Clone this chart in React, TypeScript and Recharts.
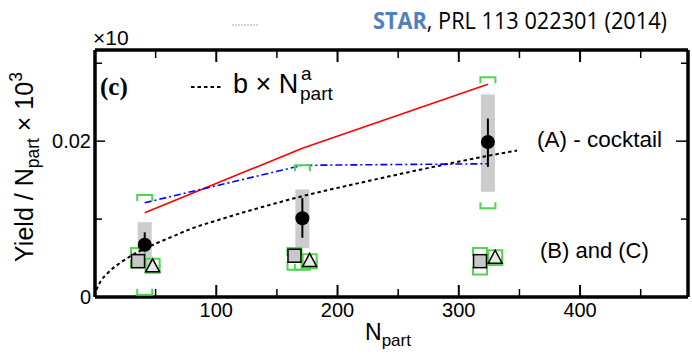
import React from 'react'
import { ComposedChart, Line, Scatter, XAxis, YAxis, ErrorBar } from 'recharts'

const SANS = "'Liberation Sans', Arial, Helvetica, sans-serif"
const SERIF = "'Liberation Serif', 'Times New Roman', serif"
const GREEN = '#4fd64f'
const GREY = '#cccccc'

// Npart axis / yield axis
const xTicks = [50, 100, 150, 200, 250, 300, 350, 400, 450]
const yTicks = [0, 0.01, 0.02, 0.03]
const X_MAX = 489
const Y_MAX = 0.0317

// (A) measured points: black circles
const npartA = [41, 171, 324]
const yieldA = [0.0067, 0.0101, 0.0199]
const statLo = [0.0058, 0.0076, 0.0167]
const statHi = [0.0083, 0.0127, 0.0229]
const sysLo = [0.004, 0.0063, 0.0135]
const sysHi = [0.0096, 0.0138, 0.026]
const bracketHiA = [0.0131, 0.0169, 0.0282]
const bracketLoA = [0.0003, 0.0035, 0.0114]

// cocktail curves
const cocktailRed = [0.0108, 0.0191, 0.0273]
const cocktailBlue = [0.0121, 0.0169, 0.0171]

// (B) squares and (C) triangles
const npartB = [35.5, 164.5, 317.5]
const yieldB = [0.0046, 0.0053, 0.0046]
const bracketHiB = [0.0063, 0.0063, 0.0063]
const bracketLoB = [0.0038, 0.0035, 0.0029]
const npartC = [47.5, 177, 330]
const yieldC = [0.004, 0.0047, 0.0051]
const bracketHiC = [0.0049, 0.0055, 0.006]
const bracketLoC = [0.0031, 0.0037, 0.0041]

// b x Npart^a fit
const fitN = [1, 5, 10, 20, 30, 45, 60, 80, 100, 130, 170, 220, 270, 320, 348]
const fitY = [0.0009, 0.0021, 0.003, 0.0043, 0.0053, 0.0065, 0.0075, 0.0088, 0.0098, 0.0112, 0.0129, 0.0147, 0.0164, 0.018, 0.0188]

const pointsA = npartA.map((x, i) => ({
  x,
  y: yieldA[i],
  stat: [yieldA[i] - statLo[i], statHi[i] - yieldA[i]],
  sys: [yieldA[i] - sysLo[i], sysHi[i] - yieldA[i]],
}))
const redData = npartA.map((x, i) => ({ x, y: cocktailRed[i] }))
const blueData = npartA.map((x, i) => ({ x, y: cocktailBlue[i] }))
const fitData = fitN.map((x, i) => ({ x, y: fitY[i] }))
const squares = npartB.map((x, i) => ({ x, y: yieldB[i] }))
const triangles = npartC.map((x, i) => ({ x, y: yieldC[i] }))
const topBrackets = [
  ...npartA.map((x, i) => ({ x, y: bracketHiA[i], w: 15, h: 6 })),
  ...npartB.map((x, i) => ({ x, y: bracketHiB[i], w: 14, h: 8 })),
  ...npartC.map((x, i) => ({ x, y: bracketHiC[i], w: 14, h: 8 })),
]
const bottomBrackets = [
  ...npartA.map((x, i) => ({ x, y: bracketLoA[i], w: 15, h: 6 })),
  ...npartB.map((x, i) => ({ x, y: bracketLoB[i], w: 14, h: 8 })),
  ...npartC.map((x, i) => ({ x, y: bracketLoC[i], w: 14, h: 8 })),
]

const isMajorX = (v: number) => v % 100 === 0
const isMajorY = (v: number) => Math.abs(v) < 1e-9 || Math.abs(v - 0.02) < 1e-9
const AXIS = { stroke: '#000', strokeWidth: 3.5 }

const BottomTick = ({ x, y, payload }: any) => {
  const major = isMajorX(payload.value)
  return (
    <g>
      <line x1={x} x2={x} y1={y} y2={y - (major ? 12 : 8)} stroke="#000" strokeWidth={major ? 2 : 1.5} />
      {major && (
        <text x={x} y={y + 20} textAnchor="middle" fontSize={20} fontFamily={SANS} fill="#000">
          {payload.value}
        </text>
      )}
    </g>
  )
}

const TopTick = ({ x, y, payload }: any) => {
  const major = isMajorX(payload.value)
  return <line x1={x} x2={x} y1={y} y2={y + (major ? 12 : 8)} stroke="#000" strokeWidth={major ? 2 : 1.5} />
}

const LeftTick = ({ x, y, payload }: any) => {
  const major = isMajorY(payload.value)
  return (
    <g>
      <line x1={x} x2={x + (major ? 10 : 7)} y1={y} y2={y} stroke="#000" strokeWidth={1.5} />
      {major && (
        <text x={x - 4} y={y + 7} textAnchor="end" fontSize={20} fontFamily={SANS} fill="#000">
          {payload.value === 0 ? '0' : '0.02'}
        </text>
      )}
    </g>
  )
}

const RightTick = ({ x, y, payload }: any) => {
  const major = isMajorY(payload.value)
  return <line x1={x} x2={x - (major ? 12 : 7)} y1={y} y2={y} stroke="#000" strokeWidth={1.5} />
}

const Circle = ({ cx, cy }: any) => <circle cx={cx} cy={cy} r={7} fill="#000" />
const Empty = () => <g />
const Square = ({ cx, cy }: any) => (
  <rect x={cx - 6.5} y={cy - 6.5} width={13} height={13} fill="#c8c8c8" stroke="#000" strokeWidth={1.5} />
)
const Triangle = ({ cx, cy }: any) => (
  <path d={`M${cx - 7},${cy + 6} L${cx + 7},${cy + 6} L${cx},${cy - 7} Z`} fill="#e8e8e8" stroke="#000" strokeWidth={1.5} />
)
const TopBracket = ({ cx, cy, payload }: any) => {
  const w = payload.w / 2
  return <path d={`M${cx - w},${cy + payload.h} V${cy} H${cx + w} V${cy + payload.h}`} fill="none" stroke={GREEN} strokeWidth={2} />
}
const BottomBracket = ({ cx, cy, payload }: any) => {
  const w = payload.w / 2
  return <path d={`M${cx - w},${cy - payload.h} V${cy} H${cx + w} V${cy - payload.h}`} fill="none" stroke={GREEN} strokeWidth={2} />
}

export default function App() {
  return (
    <div style={{ position: 'absolute', left: 0, top: 0, width: 692, height: 354, background: '#fff' }}>
      <ComposedChart width={692} height={354} margin={{ top: 40, right: 2, bottom: 27, left: 35 }}>
        <XAxis
          dataKey="x" type="number" domain={[0, X_MAX]} ticks={xTicks} allowDataOverflow
          height={30} tickSize={0} tickMargin={0} tick={<BottomTick />}
          axisLine={AXIS} tickLine={false}
        />
        <XAxis
          xAxisId="top" orientation="top" dataKey="x" type="number" domain={[0, X_MAX]} ticks={xTicks}
          allowDataOverflow height={10} tickSize={0} tickMargin={0} tick={<TopTick />}
          axisLine={AXIS} tickLine={false}
        />
        <YAxis
          type="number" domain={[0, Y_MAX]} ticks={yTicks} allowDataOverflow width={60}
          tickSize={0} tickMargin={0} tick={<LeftTick />}
          axisLine={AXIS} tickLine={false}
        />
        <YAxis
          yAxisId="right" orientation="right" type="number" domain={[0, Y_MAX]} ticks={yTicks}
          allowDataOverflow width={2} tickSize={0} tickMargin={0} tick={<RightTick />}
          axisLine={AXIS} tickLine={false}
        />

        {/* grey systematic boxes */}
        <Scatter data={pointsA} dataKey="y" shape={<Empty />} isAnimationActive={false}>
          <ErrorBar dataKey="sys" direction="y" width={0} stroke={GREY} strokeWidth={14} />
        </Scatter>

        <Line data={fitData} dataKey="y" type="monotone" stroke="#000" strokeWidth={2}
          strokeDasharray="3.5 3" dot={false} isAnimationActive={false} />
        <Line data={redData} dataKey="y" type="linear" stroke="#ff0000" strokeWidth={1.6}
          dot={false} isAnimationActive={false} />
        <Line data={blueData} dataKey="y" type="linear" stroke="#0000ff" strokeWidth={1.6}
          strokeDasharray="7 3 2 3" dot={false} isAnimationActive={false} />

        <Scatter data={topBrackets} dataKey="y" shape={<TopBracket />} isAnimationActive={false} />
        <Scatter data={bottomBrackets} dataKey="y" shape={<BottomBracket />} isAnimationActive={false} />

        <Scatter data={pointsA} dataKey="y" shape={<Circle />} isAnimationActive={false}>
          <ErrorBar dataKey="stat" direction="y" width={0} stroke="#000" strokeWidth={2} />
        </Scatter>
        <Scatter data={squares} dataKey="y" shape={<Square />} isAnimationActive={false} />
        <Scatter data={triangles} dataKey="y" shape={<Triangle />} isAnimationActive={false} />
      </ComposedChart>

      <svg width={692} height={354} style={{ position: 'absolute', left: 0, top: 0, pointerEvents: 'none' }}>
        <text x={373} y={29} fontFamily="'Open Sans', Lato, sans-serif" fontSize={24} textLength={294} lengthAdjust="spacingAndGlyphs">
          <tspan fill="#4f81bd" fontWeight="bold">STAR</tspan>
          <tspan fill="#000">, PRL 113 022301 (2014)</tspan>
        </text>
        <line x1={232} x2={259} y1={25} y2={25} stroke="#aaa" strokeWidth={1.2} strokeDasharray="2 1" />

        <text x={93} y={45} fontFamily={SANS} fontSize={21} fill="#000">×10</text>
        <text x={100} y={95} fontFamily={SERIF} fontWeight="bold" fontSize={25} fill="#000">(c)</text>

        <line x1={191} x2={221} y1={87} y2={87} stroke="#000" strokeWidth={2} strokeDasharray="3.5 3" />
        <text x={233} y={93} fontFamily={SANS} fontSize={27} fill="#000">b × N</text>
        <text x={301} y={80} fontFamily={SANS} fontSize={19} fill="#000">a</text>
        <text x={300} y={100} fontFamily={SANS} fontSize={19} fill="#000">part</text>

        <text x={537} y={147} fontFamily={SANS} fontSize={22.5} fill="#000">(A) - cocktail</text>
        <text x={540} y={258} fontFamily={SANS} fontSize={22} fill="#000">(B) and (C)</text>

        <text x={365} y={340} fontFamily={SANS} fontSize={23} fill="#000">
          N<tspan fontSize={17} dy={6}>part</tspan>
        </text>

        <text transform="translate(33,167) rotate(-90)" textAnchor="middle" fontFamily={SANS} fontSize={25} fill="#000">
          Yield / N<tspan fontSize={17.5} dy={6}>part</tspan>
          <tspan dy={-6}> × 10</tspan>
          <tspan fontSize={17.5} dy={-11}>3</tspan>
        </text>
      </svg>
    </div>
  )
}
